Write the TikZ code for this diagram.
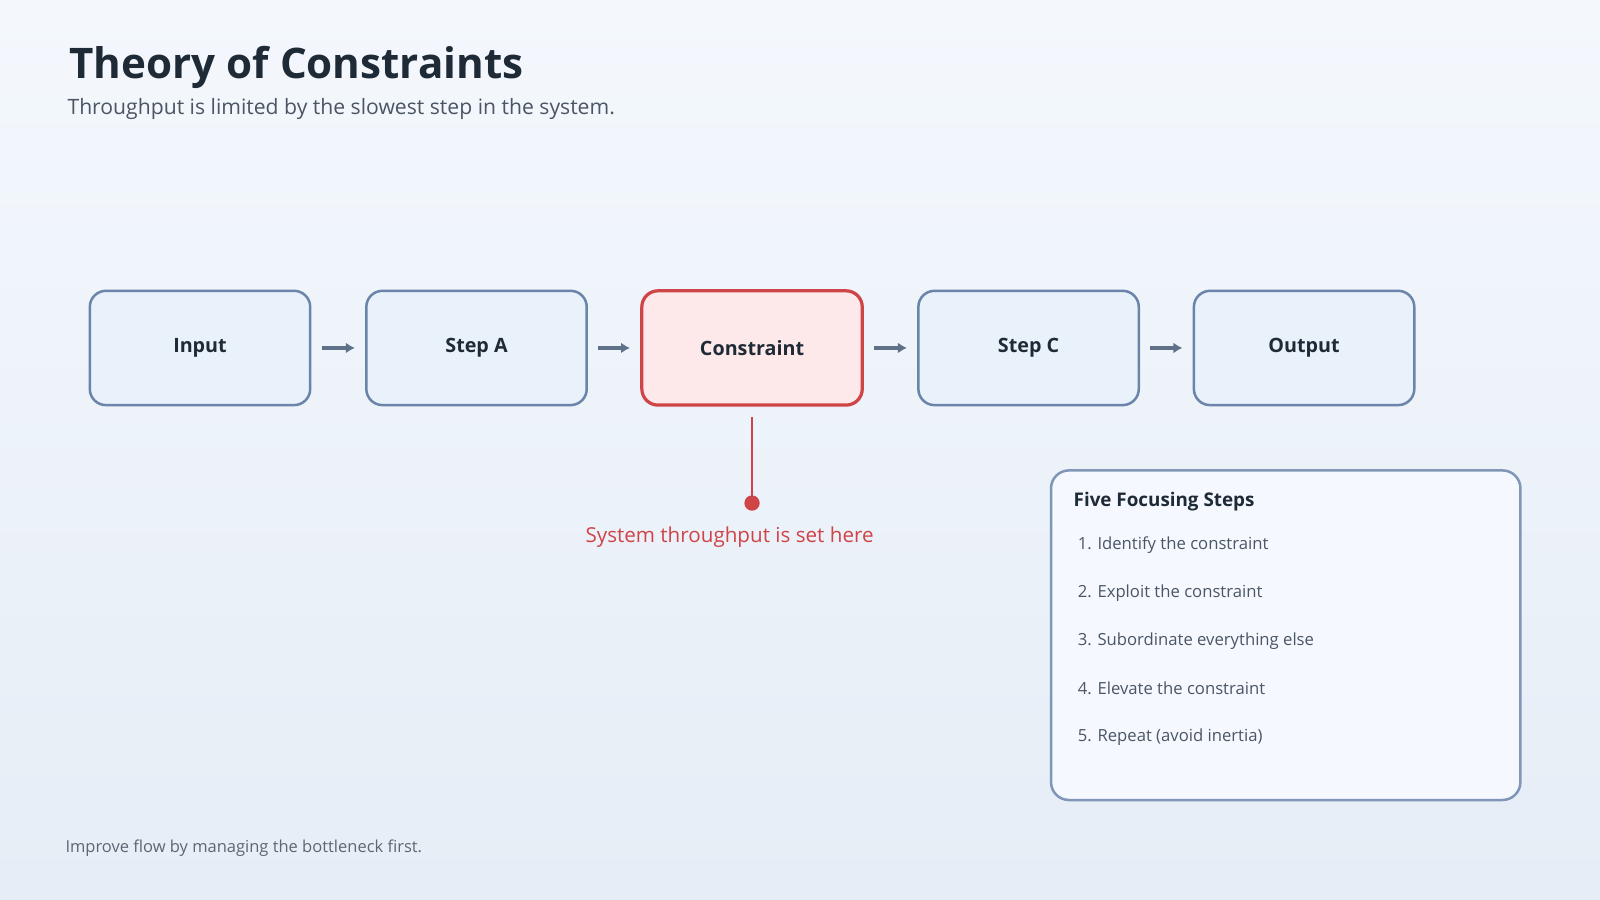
\documentclass[tikz,border=0pt]{standalone}
\usepackage{fontspec}
\setmainfont{Open Sans}
\begin{document}
\begin{tikzpicture}[x=0.02cm,y=-0.02cm,
  stepbox/.style={draw=boxline,line width=1.4pt,fill=boxfill,rounded corners=9pt,minimum width=216*0.02cm,minimum height=112*0.02cm,font=\fontsize{11}{13}\selectfont\bfseries,text=ink},
  flow/.style={draw=arrowc,line width=2.2pt,-{Latex[length=5pt,width=6pt]}}]
\usetikzlibrary{arrows.meta}
\definecolor{bgtop}{HTML}{F4F8FD}\definecolor{bgbot}{HTML}{E6EDF6}
\definecolor{boxline}{HTML}{6A84AA}\definecolor{boxfill}{HTML}{E9F1FA}
\definecolor{redl}{HTML}{CF4447}\definecolor{redf}{HTML}{FDE9EA}
\definecolor{ink}{HTML}{1F2A37}\definecolor{grey}{HTML}{4B5563}
\definecolor{arrowc}{HTML}{5F7089}\definecolor{panel}{HTML}{F5F9FF}
\fill[top color=bgtop,bottom color=bgbot] (0,0) rectangle (1568,882);
\useasboundingbox (0,0) rectangle (1568,882);
\node[anchor=west,font=\fontsize{23.5}{26}\selectfont\bfseries,text=ink] (title) at (62,66) {Theory of Constraints};
\node[anchor=west,font=\fontsize{11.8}{14}\selectfont,text=grey] (sub) at (60,107) {Throughput is limited by the slowest step in the system.};
\node[stepbox] (in) at (196,341) {Input};
\node[stepbox] (a) at (467,341) {Step A};
\node[stepbox,draw=redl,fill=redf,line width=1.8pt] (c) at (737,341) {Constraint};
\node[stepbox] (sc) at (1008,341) {Step C};
\node[stepbox] (out) at (1278,341) {Output};
\foreach \p/\q in {in/a,a/c,c/sc,sc/out}{\draw[flow] ([xshift=10*0.02cm]\p.east) -- ([xshift=-10*0.02cm]\q.west);}
\coordinate (dot) at (737,493);
\draw[redl,line width=1.3pt] ([yshift=-10*0.02cm]c.south) -- (dot);
\fill[redl] (dot) circle (7.5);
\node[font=\fontsize{11.5}{14}\selectfont,text=redl] (note) at (715,526) {System throughput is set here};
\node[draw=boxline!85,line width=1.4pt,fill=panel,rounded corners=10pt,minimum width=460*0.02cm,minimum height=323*0.02cm] (panel) at (1260,622.5) {};
\node[anchor=west,font=\fontsize{10.5}{13}\selectfont\bfseries,text=ink] (ph) at (1046,492) {Five Focusing Steps};
\foreach \t [count=\i] in {Identify the constraint,Exploit the constraint,Subordinate everything else,Elevate the constraint,Repeat (avoid inertia)}{
  \node[anchor=west,font=\fontsize{9.3}{11}\selectfont,text=grey] (it\i) at (1050,487+47*\i) {\i. \t};}
\node[anchor=west,font=\fontsize{9.2}{11}\selectfont,text=grey!90] (foot) at (58,831) {Improve flow by managing the bottleneck first.};
\end{tikzpicture}
\end{document}
